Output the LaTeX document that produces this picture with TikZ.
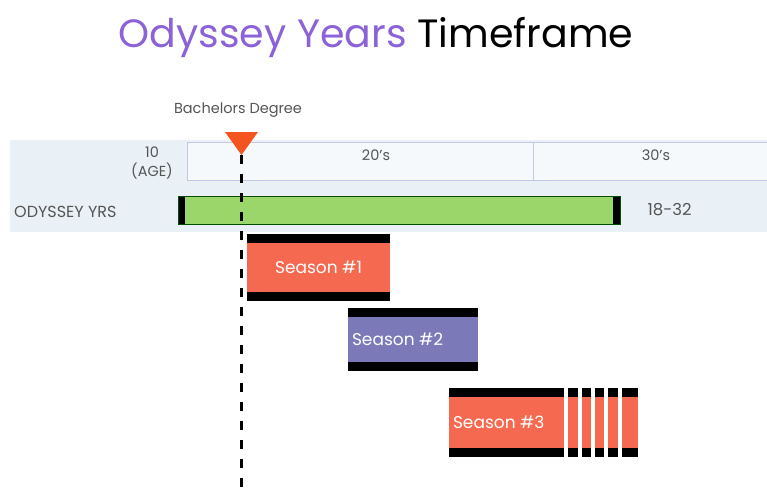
\documentclass[tikz,border=0pt]{standalone}
\usepackage{fontspec}
\setmainfont{Poppins}
\usetikzlibrary{calc, positioning}
\definecolor{oddpurple}{RGB}{140,98,215}
\definecolor{bandblue}{RGB}{234,241,246}
\definecolor{headfill}{RGB}{246,249,252}
\definecolor{headline}{RGB}{196,200,226}
\definecolor{barGreen}{RGB}{155,214,106}
\definecolor{seasonRed}{RGB}{244,105,79}
\definecolor{seasonBlue}{RGB}{124,121,184}
\definecolor{markerRed}{RGB}{244,84,32}
\definecolor{labelgrey}{RGB}{85,85,85}

\begin{document}
\begin{tikzpicture}[x=1pt, y=-1pt, every node/.style={inner sep=0pt}]
    % Define styles for header boxes, bars and labels
    \tikzstyle{small} = [font=\fontsize{14.5}{19}\selectfont, text=labelgrey]
    \tikzstyle{decade} = [draw=headline, fill=headfill, rectangle, minimum height=38pt, line width=0.8pt]
    \tikzstyle{season} = [rectangle, text=white, font=\fontsize{17}{19}\selectfont,
        path picture={
            \fill[black] (path picture bounding box.north west) rectangle ([yshift=-9pt]path picture bounding box.north east);
            \fill[black] (path picture bounding box.south west) rectangle ([yshift=9pt]path picture bounding box.south east);
        }]
    \useasboundingbox (0,0) rectangle (767,493);

    % Title
    \node (title) at (376,38) {\fontsize{39.5}{42}\selectfont\textcolor{oddpurple}{Odyssey Years} Timeframe};

    % Header band
    \fill[bandblue] (10,140) rectangle (767,232);
    \node [decade, minimum width=346pt, anchor=north west] (twenties) at (187,142) {};
    \node [decade, minimum width=240pt, anchor=north west] (thirties) at (533,142) {};
    \node [small] at (376,155) (twentieslabel) {20's};
    \node [small] at (656,155) (thirtieslabel) {30's};
    \node [small, align=center] (agelabel) at (152,163) {10\\(AGE)};

    % Odyssey years bar
    \node [small, anchor=west, font=\fontsize{16}{19}\selectfont] (odylabel) at (14,212) {ODYSSEY YRS};
    \node [rectangle, fill=barGreen, draw=black!70!green, line width=0.8pt, minimum width=442pt, minimum height=28pt,
        path picture={
            \fill[black] (path picture bounding box.north west) rectangle ([xshift=7pt]path picture bounding box.south west);
            \fill[black] (path picture bounding box.north east) rectangle ([xshift=-7pt]path picture bounding box.south east);
        }] (odybar) at (399,210) {};
    \node [small, font=\fontsize{16.5}{19}\selectfont, right=27pt of odybar] (odyrange) {18-32};

    % Degree marker
    \node [small] (degreelabel) at (238,110) {Bachelors Degree};
    \fill[markerRed] (225,132) -- (258,132) -- (241.5,155) -- cycle;
    \coordinate (degreetip) at (241,155);
    \coordinate (dashend) at (241,493);
    \draw[line width=3pt, dash pattern=on 9pt off 10pt] (degreetip) -- (dashend);

    % Seasons
    \node [season, fill=seasonRed, minimum width=143pt, minimum height=67pt] (seasonone) at (318.5,267.5) {Season \#1};
    \node [season, fill=seasonBlue, minimum width=130pt, minimum height=63pt,
        label={[anchor=west, xshift=4pt, text=white, font=\fontsize{17}{19}\selectfont]west:Season \#2}] (seasontwo) at (413,339.5) {};
    \node [season, fill=seasonRed, minimum width=189pt, minimum height=69pt,
        label={[anchor=west, xshift=4pt, text=white, font=\fontsize{17}{19}\selectfont]west:Season \#3}] (seasonthree) at (543.5,422.5) {};
    % Breaks in the third season
    \foreach \gx in {565.5,579.5,593,605.5,619.5}
        \draw[white, line width=4pt] (\gx,386) -- (\gx,459);
\end{tikzpicture}
\end{document}
